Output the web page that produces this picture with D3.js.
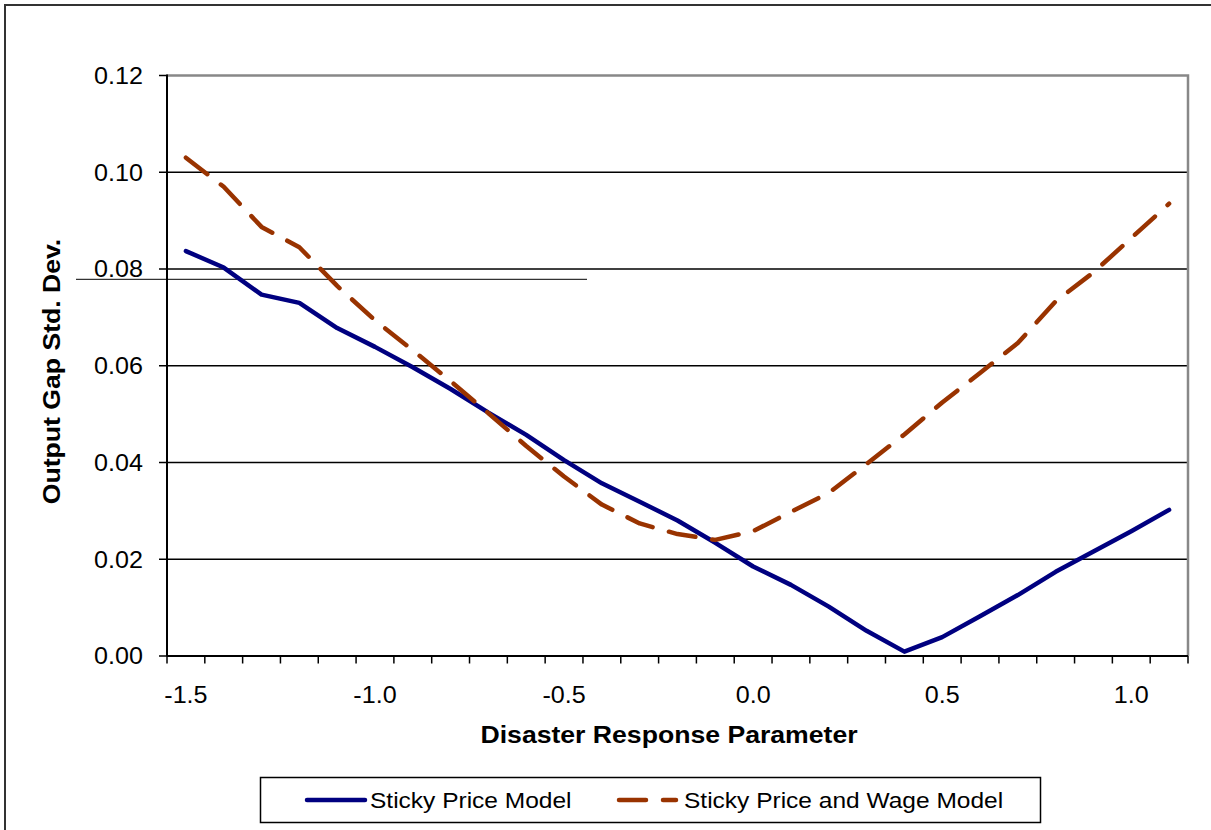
<!DOCTYPE html>
<html>
<head>
<meta charset="utf-8">
<script src="https://cdn.jsdelivr.net/npm/d3@7"></script>
<style>
  html, body { margin: 0; padding: 0; background: #fff; }
  svg { display: block; }
  text { font-family: "Liberation Sans", Arial, sans-serif; fill: #000; }
</style>
</head>
<body>
<svg id="chart" width="1211" height="830"></svg>
<script>
const categories = ["-1.5","-1.4","-1.3","-1.2","-1.1","-1.0","-0.9","-0.8","-0.7","-0.6","-0.5","-0.4","-0.3","-0.2","-0.1","0.0","0.1","0.2","0.3","0.4","0.5","0.6","0.7","0.8","0.9","1.0","1.1"];
const xTickLabels = ["-1.5","-1.0","-0.5","0.0","0.5","1.0"];
const yTicks = [0, 0.02, 0.04, 0.06, 0.08, 0.10, 0.12];
const stickyPrice = [0.0837,0.0803,0.0747,0.0730,0.0678,0.0639,0.0597,0.0552,0.0503,0.0457,0.0405,0.0357,0.0319,0.0280,0.0234,0.0185,0.0147,0.0102,0.0052,0.0009,0.0039,0.0082,0.0126,0.0174,0.0216,0.0258,0.0302];
const stickyPriceWage = [0.1030,0.0970,0.0887,0.0845,0.0765,0.0694,0.0632,0.0568,0.0502,0.0434,0.0371,0.0313,0.0274,0.0252,0.0240,0.0258,0.0298,0.0337,0.0397,0.0458,0.0524,0.0585,0.0647,0.0733,0.0793,0.0864,0.0935];
const seriesNames = ["Sticky Price Model", "Sticky Price and Wage Model"];
const xTitle = "Disaster Response Parameter";
const yTitle = "Output Gap Std. Dev.";

const svg = d3.select("#chart");
const L = 167, R = 1188, T = 75.5, B = 656;

const x = d3.scaleBand().domain(categories).range([L, R]).padding(0);
const bw = x.bandwidth();
const cx = c => x(c) + bw / 2;
const y = d3.scaleLinear().domain([0, 0.12]).range([B, T]);

function label(g, str, px, py, size, weight, anchor, sx, rot) {
  return g.append("text")
    .attr("transform", `translate(${px},${py})` + (rot ? ` rotate(${rot})` : "") + ` scale(${sx},1)`)
    .attr("text-anchor", anchor)
    .style("font-size", size + "px")
    .style("font-weight", weight)
    .text(str);
}

// outer chart-area border
svg.append("rect").attr("x", 5).attr("y", 5).attr("width", 1400).attr("height", 1000)
  .attr("fill", "none").attr("stroke", "#333").attr("stroke-width", 2);

// gridlines
svg.append("g").selectAll("line").data(yTicks.filter(v => v > 0 && v < 0.12)).join("line")
  .attr("x1", L).attr("x2", R).attr("y1", d => y(d)).attr("y2", d => y(d))
  .attr("stroke", "#000").attr("stroke-width", 1.3);

// plot area top/right border (gray)
svg.append("path")
  .attr("d", `M${L},${y(0.12)}H${R}V${B}`)
  .attr("fill", "none").attr("stroke", "#888").attr("stroke-width", 2.5);

// stray line in reference
svg.append("line").attr("x1", 76).attr("x2", 587).attr("y1", 279.3).attr("y2", 279.3)
  .attr("stroke", "#000").attr("stroke-width", 1);

// y axis
const gy = svg.append("g");
gy.append("line").attr("x1", L).attr("x2", L).attr("y1", T - 1).attr("y2", B)
  .attr("stroke", "#000").attr("stroke-width", 2);
gy.selectAll("line.tick").data(yTicks).join("line").attr("class", "tick")
  .attr("x1", L - 8).attr("x2", L).attr("y1", d => y(d)).attr("y2", d => y(d))
  .attr("stroke", "#000").attr("stroke-width", 1.5);
yTicks.forEach(v => label(gy, d3.format(".2f")(v), 143, y(v) + 8.3, 23.5, "normal", "end", 1.07));

// x axis
const gx = svg.append("g");
gx.append("line").attr("x1", L).attr("x2", R).attr("y1", B).attr("y2", B)
  .attr("stroke", "#000").attr("stroke-width", 2);
const bounds = categories.map(c => x(c)).concat([R]);
gx.selectAll("line.tick").data(bounds).join("line").attr("class", "tick")
  .attr("x1", d => d).attr("x2", d => d).attr("y1", B).attr("y2", B + 7.5)
  .attr("stroke", "#000").attr("stroke-width", 1.5);
xTickLabels.forEach(c => label(gx, c, cx(c), 703, 23.5, "normal", "middle", 1.07));

// axis titles
label(svg, xTitle, 669, 743.3, 24.2, "bold", "middle", 1.1);
label(svg, yTitle, 60, 371.5, 24.2, "bold", "middle", 1.1, -90);

// lines
const line = d3.line().x((d, i) => cx(categories[i])).y(d => y(d));
svg.append("path").datum(stickyPrice).attr("d", line)
  .attr("fill", "none").attr("stroke", "#000080").attr("stroke-width", 4.5)
  .attr("stroke-linejoin", "round").attr("stroke-linecap", "round");
svg.append("path").datum(stickyPriceWage).attr("d", line)
  .attr("fill", "none").attr("stroke", "#993300").attr("stroke-width", 4.5)
  .attr("stroke-dasharray", "27,17")
  .attr("stroke-linejoin", "round").attr("stroke-linecap", "round");

// legend
const lg = svg.append("g");
lg.append("rect").attr("x", 260.5).attr("y", 777.5).attr("width", 780).attr("height", 45)
  .attr("fill", "#fff").attr("stroke", "#000").attr("stroke-width", 1.5);
lg.append("line").attr("x1", 307).attr("x2", 365).attr("y1", 800).attr("y2", 800)
  .attr("stroke", "#000080").attr("stroke-width", 4.5).attr("stroke-linecap", "round");
label(lg, seriesNames[0], 370, 808, 21.5, "normal", "start", 1.14);
lg.append("line").attr("x1", 619).attr("x2", 676).attr("y1", 800).attr("y2", 800)
  .attr("stroke", "#993300").attr("stroke-width", 4.5).attr("stroke-linecap", "round")
  .attr("stroke-dasharray", "27,17");
label(lg, seriesNames[1], 684, 808, 21.5, "normal", "start", 1.14);
</script>
</body>
</html>
